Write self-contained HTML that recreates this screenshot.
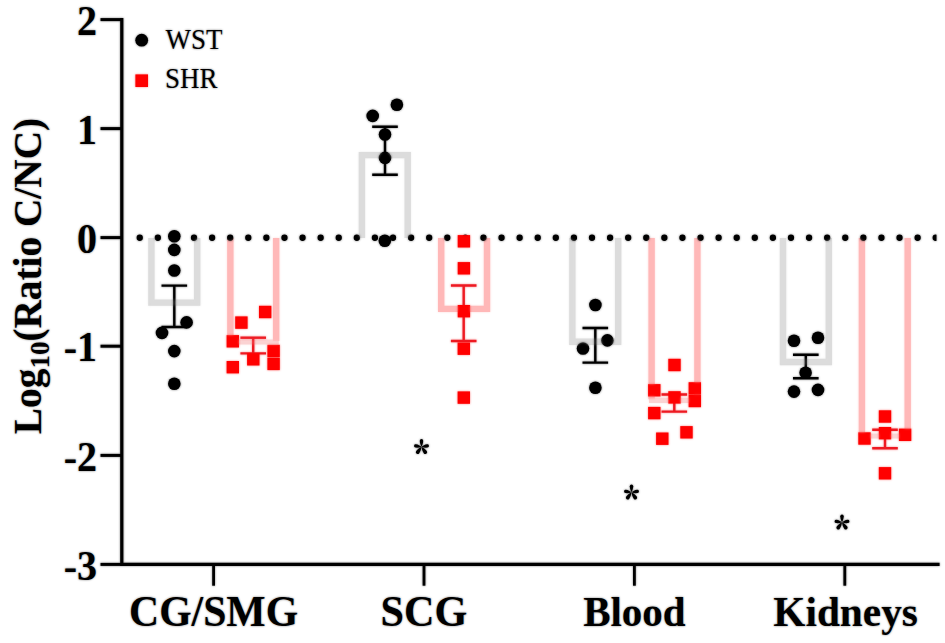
<!DOCTYPE html>
<html><head><meta charset="utf-8"><style>
html,body{margin:0;padding:0;background:#fff;}
svg{display:block;}
.wrap{position:relative;width:945px;height:643px;overflow:hidden;}
.l2{position:absolute;left:0;top:0;filter:blur(1px);opacity:0.5;}
text{font-family:"Liberation Serif",serif;}
</style></head><body><div class="wrap">
<svg width="945" height="643" viewBox="0 0 945 643">
<rect width="945" height="643" fill="#fff"/>
<!--S-->
<path d="M151.40,238.1 V302.6 H197.20 V238.1" fill="none" stroke="#dcdcdc" stroke-width="6.4" stroke-linejoin="miter"/>
<path d="M230.35,342.0 H276.15" fill="none" stroke="#fbd3d3" stroke-width="5.2" stroke-linecap="square"/>
<path d="M230.35,238.1 V341.00 M276.15,238.1 V341.00" fill="none" stroke="#ffb8b8" stroke-width="6.4"/>
<path d="M361.90,238.1 V155.1 H407.70 V238.1" fill="none" stroke="#dcdcdc" stroke-width="6.4" stroke-linejoin="miter"/>
<path d="M441.20,238.1 V308.85 H487.00 V238.1" fill="none" stroke="#ffb8b8" stroke-width="6.4" stroke-linejoin="miter"/>
<path d="M572.35,238.1 V341.7 H618.15 V238.1" fill="none" stroke="#dcdcdc" stroke-width="6.4" stroke-linejoin="miter"/>
<path d="M651.60,400.3 H697.40" fill="none" stroke="#fbd3d3" stroke-width="5.2" stroke-linecap="square"/>
<path d="M651.60,238.1 V399.30 M697.40,238.1 V399.30" fill="none" stroke="#ffb8b8" stroke-width="6.4"/>
<path d="M783.00,238.1 V362.0 H828.80 V238.1" fill="none" stroke="#dcdcdc" stroke-width="6.4" stroke-linejoin="miter"/>
<path d="M861.90,436.0 H907.70" fill="none" stroke="#fbd3d3" stroke-width="5.2" stroke-linecap="square"/>
<path d="M861.90,238.1 V435.00 M907.70,238.1 V435.00" fill="none" stroke="#ffb8b8" stroke-width="6.4"/>
<defs><clipPath id="dc"><rect x="120" y="220" width="816.5" height="40"/></clipPath></defs>
<line x1="139.75" y1="237.75" x2="940" y2="237.75" stroke="#000" stroke-width="6.3" stroke-linecap="round" stroke-dasharray="0 18.09" clip-path="url(#dc)"/>
<path d="M161.50,285.6 H187.10 M174.3,285.6 V327.0 M161.50,327.0 H187.10" fill="none" stroke="#000" stroke-width="2.4"/>
<path d="M240.40,337.7 H266.00 M253.2,337.7 V353.4 M240.40,353.4 H266.00" fill="none" stroke="#ee1a22" stroke-width="2.4"/>
<path d="M372.20,126.7 H397.80 M385.0,126.7 V174.7 M372.20,174.7 H397.80" fill="none" stroke="#000" stroke-width="2.4"/>
<path d="M450.90,285.5 H476.50 M463.7,285.5 V341.0 M450.90,341.0 H476.50" fill="none" stroke="#ee1a22" stroke-width="2.4"/>
<path d="M582.50,328.0 H608.10 M595.3,328.0 V362.6 M582.50,362.6 H608.10" fill="none" stroke="#000" stroke-width="2.4"/>
<path d="M661.50,394.5 H687.10 M674.3,394.5 V411.6 M661.50,411.6 H687.10" fill="none" stroke="#ee1a22" stroke-width="2.4"/>
<path d="M793.00,354.8 H818.60 M805.8,354.8 V378.3 M793.00,378.3 H818.60" fill="none" stroke="#000" stroke-width="2.4"/>
<path d="M872.20,429.7 H897.80 M885.0,429.7 V448.3 M872.20,448.3 H897.80" fill="none" stroke="#ee1a22" stroke-width="2.4"/>
<circle cx="174.3" cy="236.2" r="6.3" fill="#000"/>
<circle cx="174.3" cy="249.9" r="6.3" fill="#000"/>
<circle cx="174.3" cy="270.5" r="6.3" fill="#000"/>
<circle cx="186.6" cy="322.4" r="6.3" fill="#000"/>
<circle cx="162" cy="332.9" r="6.3" fill="#000"/>
<circle cx="174.3" cy="351.1" r="6.3" fill="#000"/>
<circle cx="174.3" cy="383.8" r="6.3" fill="#000"/>
<circle cx="396.9" cy="104.7" r="6.3" fill="#000"/>
<circle cx="372.7" cy="115.9" r="6.3" fill="#000"/>
<circle cx="385" cy="134.5" r="6.3" fill="#000"/>
<circle cx="385" cy="157.9" r="6.3" fill="#000"/>
<circle cx="384.8" cy="240.7" r="6.3" fill="#000"/>
<circle cx="595.4" cy="305" r="6.3" fill="#000"/>
<circle cx="607.4" cy="340.4" r="6.3" fill="#000"/>
<circle cx="583" cy="348.5" r="6.3" fill="#000"/>
<circle cx="595.4" cy="387.8" r="6.3" fill="#000"/>
<circle cx="794" cy="340.8" r="6.3" fill="#000"/>
<circle cx="818" cy="337.7" r="6.3" fill="#000"/>
<circle cx="805.6" cy="372.8" r="6.3" fill="#000"/>
<circle cx="794" cy="391.6" r="6.3" fill="#000"/>
<circle cx="818" cy="389.9" r="6.3" fill="#000"/>
<rect x="259.00" y="305.80" width="12.4" height="12.4" fill="#ff0000"/>
<rect x="235.20" y="316.40" width="12.4" height="12.4" fill="#ff0000"/>
<rect x="226.60" y="335.10" width="12.4" height="12.4" fill="#ff0000"/>
<rect x="247.10" y="353.10" width="12.4" height="12.4" fill="#ff0000"/>
<rect x="267.40" y="344.80" width="12.4" height="12.4" fill="#ff0000"/>
<rect x="267.40" y="357.70" width="12.4" height="12.4" fill="#ff0000"/>
<rect x="226.60" y="361.00" width="12.4" height="12.4" fill="#ff0000"/>
<rect x="457.70" y="235.10" width="12.4" height="12.4" fill="#ff0000"/>
<rect x="457.70" y="262.10" width="12.4" height="12.4" fill="#ff0000"/>
<rect x="457.70" y="305.00" width="12.4" height="12.4" fill="#ff0000"/>
<rect x="457.60" y="342.50" width="12.4" height="12.4" fill="#ff0000"/>
<rect x="457.60" y="391.40" width="12.4" height="12.4" fill="#ff0000"/>
<rect x="668.30" y="358.80" width="12.4" height="12.4" fill="#ff0000"/>
<rect x="648.10" y="384.10" width="12.4" height="12.4" fill="#ff0000"/>
<rect x="688.60" y="382.20" width="12.4" height="12.4" fill="#ff0000"/>
<rect x="688.60" y="394.80" width="12.4" height="12.4" fill="#ff0000"/>
<rect x="668.30" y="391.20" width="12.4" height="12.4" fill="#ff0000"/>
<rect x="648.10" y="406.90" width="12.4" height="12.4" fill="#ff0000"/>
<rect x="680.30" y="426.10" width="12.4" height="12.4" fill="#ff0000"/>
<rect x="656.10" y="432.50" width="12.4" height="12.4" fill="#ff0000"/>
<rect x="878.80" y="410.30" width="12.4" height="12.4" fill="#ff0000"/>
<rect x="878.80" y="427.00" width="12.4" height="12.4" fill="#ff0000"/>
<rect x="858.30" y="432.30" width="12.4" height="12.4" fill="#ff0000"/>
<rect x="898.90" y="428.60" width="12.4" height="12.4" fill="#ff0000"/>
<rect x="878.80" y="467.10" width="12.4" height="12.4" fill="#ff0000"/>
<path d="M121.8,18.1 V564.4 H939.6" fill="none" stroke="#000" stroke-width="3.2"/>
<line x1="100.5" y1="19.6" x2="122" y2="19.6" stroke="#000" stroke-width="3"/>
<text transform="translate(97,34.7) scale(1,1.08)" text-anchor="end" font-weight="bold" font-size="40">2</text>
<line x1="100.5" y1="128.6" x2="122" y2="128.6" stroke="#000" stroke-width="3"/>
<text transform="translate(97,143.7) scale(1,1.08)" text-anchor="end" font-weight="bold" font-size="40">1</text>
<line x1="100.5" y1="237.6" x2="122" y2="237.6" stroke="#000" stroke-width="3"/>
<text transform="translate(97,252.7) scale(1,1.08)" text-anchor="end" font-weight="bold" font-size="40">0</text>
<line x1="100.5" y1="346.2" x2="122" y2="346.2" stroke="#000" stroke-width="3"/>
<text transform="translate(97,361.3) scale(1,1.08)" text-anchor="end" font-weight="bold" font-size="40">-1</text>
<line x1="100.5" y1="455.4" x2="122" y2="455.4" stroke="#000" stroke-width="3"/>
<text transform="translate(97,470.5) scale(1,1.08)" text-anchor="end" font-weight="bold" font-size="40">-2</text>
<line x1="100.5" y1="564.4" x2="122" y2="564.4" stroke="#000" stroke-width="3"/>
<text transform="translate(97,579.5) scale(1,1.08)" text-anchor="end" font-weight="bold" font-size="40">-3</text>
<line x1="213.6" y1="564" x2="213.6" y2="585.7" stroke="#000" stroke-width="2.8"/>
<text transform="translate(213.6,626) scale(1.017,1.06)" text-anchor="middle" font-weight="bold" font-size="41">CG/SMG</text>
<line x1="424.0" y1="564" x2="424.0" y2="585.7" stroke="#000" stroke-width="2.8"/>
<text transform="translate(424.0,626) scale(1.03,1.06)" text-anchor="middle" font-weight="bold" font-size="41">SCG</text>
<line x1="634.4" y1="564" x2="634.4" y2="585.7" stroke="#000" stroke-width="2.8"/>
<text transform="translate(634.4,626) scale(1.0,1.02)" text-anchor="middle" font-weight="bold" font-size="41">Blood</text>
<line x1="844.8" y1="564" x2="844.8" y2="585.7" stroke="#000" stroke-width="2.8"/>
<text transform="translate(845.6,626) scale(1.008,1.04)" text-anchor="middle" font-weight="bold" font-size="41">Kidneys</text>
<defs><path id="pt" d="M0,0 C-0.8,-1.6 -1.65,-3.6 -1.65,-5.85 A1.65,1.65 0 0 1 1.65,-5.85 C1.65,-3.6 0.8,-1.6 0,0Z"/></defs>
<g transform="translate(421.5,446.8)" fill="#000"><use href="#pt" transform="rotate(0) scale(1.03)"/><use href="#pt" transform="rotate(-82) scale(1.0)"/><use href="#pt" transform="rotate(82) scale(1.0)"/><use href="#pt" transform="rotate(-145) scale(1.12)"/><use href="#pt" transform="rotate(145) scale(1.12)"/></g>
<g transform="translate(631.5,492.3)" fill="#000"><use href="#pt" transform="rotate(0) scale(1.03)"/><use href="#pt" transform="rotate(-82) scale(1.0)"/><use href="#pt" transform="rotate(82) scale(1.0)"/><use href="#pt" transform="rotate(-145) scale(1.12)"/><use href="#pt" transform="rotate(145) scale(1.12)"/></g>
<g transform="translate(842,522.3)" fill="#000"><use href="#pt" transform="rotate(0) scale(1.03)"/><use href="#pt" transform="rotate(-82) scale(1.0)"/><use href="#pt" transform="rotate(82) scale(1.0)"/><use href="#pt" transform="rotate(-145) scale(1.12)"/><use href="#pt" transform="rotate(145) scale(1.12)"/></g>
<text transform="translate(40.5,276) rotate(-90)" text-anchor="middle" font-weight="bold" font-size="39.3">Log<tspan font-size="27" dy="8.5">10</tspan><tspan dy="-8.5">(Ratio C/NC)</tspan></text>
<circle cx="141.7" cy="40.2" r="6.4" fill="#000"/>
<rect x="135.4" y="74.4" width="12.6" height="12.6" fill="#ff0000"/>
<text transform="translate(165.5,48.6) scale(1,1.06)" font-size="27">WST</text>
<text transform="translate(165,88.2) scale(1,1.06)" font-size="27">SHR</text>
</svg>
<div class="l2"><svg width="945" height="643" viewBox="0 0 945 643"><path d="M151.40,238.1 V302.6 H197.20 V238.1" fill="none" stroke="#dcdcdc" stroke-width="6.4" stroke-linejoin="miter"/>
<path d="M230.35,342.0 H276.15" fill="none" stroke="#fbd3d3" stroke-width="5.2" stroke-linecap="square"/>
<path d="M230.35,238.1 V341.00 M276.15,238.1 V341.00" fill="none" stroke="#ffb8b8" stroke-width="6.4"/>
<path d="M361.90,238.1 V155.1 H407.70 V238.1" fill="none" stroke="#dcdcdc" stroke-width="6.4" stroke-linejoin="miter"/>
<path d="M441.20,238.1 V308.85 H487.00 V238.1" fill="none" stroke="#ffb8b8" stroke-width="6.4" stroke-linejoin="miter"/>
<path d="M572.35,238.1 V341.7 H618.15 V238.1" fill="none" stroke="#dcdcdc" stroke-width="6.4" stroke-linejoin="miter"/>
<path d="M651.60,400.3 H697.40" fill="none" stroke="#fbd3d3" stroke-width="5.2" stroke-linecap="square"/>
<path d="M651.60,238.1 V399.30 M697.40,238.1 V399.30" fill="none" stroke="#ffb8b8" stroke-width="6.4"/>
<path d="M783.00,238.1 V362.0 H828.80 V238.1" fill="none" stroke="#dcdcdc" stroke-width="6.4" stroke-linejoin="miter"/>
<path d="M861.90,436.0 H907.70" fill="none" stroke="#fbd3d3" stroke-width="5.2" stroke-linecap="square"/>
<path d="M861.90,238.1 V435.00 M907.70,238.1 V435.00" fill="none" stroke="#ffb8b8" stroke-width="6.4"/>
<defs><clipPath id="dc2"><rect x="120" y="220" width="816.5" height="40"/></clipPath></defs>
<line x1="139.75" y1="237.75" x2="940" y2="237.75" stroke="#000" stroke-width="6.3" stroke-linecap="round" stroke-dasharray="0 18.09" clip-path="url(#dc2)"/>
<path d="M161.50,285.6 H187.10 M174.3,285.6 V327.0 M161.50,327.0 H187.10" fill="none" stroke="#000" stroke-width="2.4"/>
<path d="M240.40,337.7 H266.00 M253.2,337.7 V353.4 M240.40,353.4 H266.00" fill="none" stroke="#ee1a22" stroke-width="2.4"/>
<path d="M372.20,126.7 H397.80 M385.0,126.7 V174.7 M372.20,174.7 H397.80" fill="none" stroke="#000" stroke-width="2.4"/>
<path d="M450.90,285.5 H476.50 M463.7,285.5 V341.0 M450.90,341.0 H476.50" fill="none" stroke="#ee1a22" stroke-width="2.4"/>
<path d="M582.50,328.0 H608.10 M595.3,328.0 V362.6 M582.50,362.6 H608.10" fill="none" stroke="#000" stroke-width="2.4"/>
<path d="M661.50,394.5 H687.10 M674.3,394.5 V411.6 M661.50,411.6 H687.10" fill="none" stroke="#ee1a22" stroke-width="2.4"/>
<path d="M793.00,354.8 H818.60 M805.8,354.8 V378.3 M793.00,378.3 H818.60" fill="none" stroke="#000" stroke-width="2.4"/>
<path d="M872.20,429.7 H897.80 M885.0,429.7 V448.3 M872.20,448.3 H897.80" fill="none" stroke="#ee1a22" stroke-width="2.4"/>
<circle cx="174.3" cy="236.2" r="6.3" fill="#000"/>
<circle cx="174.3" cy="249.9" r="6.3" fill="#000"/>
<circle cx="174.3" cy="270.5" r="6.3" fill="#000"/>
<circle cx="186.6" cy="322.4" r="6.3" fill="#000"/>
<circle cx="162" cy="332.9" r="6.3" fill="#000"/>
<circle cx="174.3" cy="351.1" r="6.3" fill="#000"/>
<circle cx="174.3" cy="383.8" r="6.3" fill="#000"/>
<circle cx="396.9" cy="104.7" r="6.3" fill="#000"/>
<circle cx="372.7" cy="115.9" r="6.3" fill="#000"/>
<circle cx="385" cy="134.5" r="6.3" fill="#000"/>
<circle cx="385" cy="157.9" r="6.3" fill="#000"/>
<circle cx="384.8" cy="240.7" r="6.3" fill="#000"/>
<circle cx="595.4" cy="305" r="6.3" fill="#000"/>
<circle cx="607.4" cy="340.4" r="6.3" fill="#000"/>
<circle cx="583" cy="348.5" r="6.3" fill="#000"/>
<circle cx="595.4" cy="387.8" r="6.3" fill="#000"/>
<circle cx="794" cy="340.8" r="6.3" fill="#000"/>
<circle cx="818" cy="337.7" r="6.3" fill="#000"/>
<circle cx="805.6" cy="372.8" r="6.3" fill="#000"/>
<circle cx="794" cy="391.6" r="6.3" fill="#000"/>
<circle cx="818" cy="389.9" r="6.3" fill="#000"/>
<rect x="259.00" y="305.80" width="12.4" height="12.4" fill="#ff0000"/>
<rect x="235.20" y="316.40" width="12.4" height="12.4" fill="#ff0000"/>
<rect x="226.60" y="335.10" width="12.4" height="12.4" fill="#ff0000"/>
<rect x="247.10" y="353.10" width="12.4" height="12.4" fill="#ff0000"/>
<rect x="267.40" y="344.80" width="12.4" height="12.4" fill="#ff0000"/>
<rect x="267.40" y="357.70" width="12.4" height="12.4" fill="#ff0000"/>
<rect x="226.60" y="361.00" width="12.4" height="12.4" fill="#ff0000"/>
<rect x="457.70" y="235.10" width="12.4" height="12.4" fill="#ff0000"/>
<rect x="457.70" y="262.10" width="12.4" height="12.4" fill="#ff0000"/>
<rect x="457.70" y="305.00" width="12.4" height="12.4" fill="#ff0000"/>
<rect x="457.60" y="342.50" width="12.4" height="12.4" fill="#ff0000"/>
<rect x="457.60" y="391.40" width="12.4" height="12.4" fill="#ff0000"/>
<rect x="668.30" y="358.80" width="12.4" height="12.4" fill="#ff0000"/>
<rect x="648.10" y="384.10" width="12.4" height="12.4" fill="#ff0000"/>
<rect x="688.60" y="382.20" width="12.4" height="12.4" fill="#ff0000"/>
<rect x="688.60" y="394.80" width="12.4" height="12.4" fill="#ff0000"/>
<rect x="668.30" y="391.20" width="12.4" height="12.4" fill="#ff0000"/>
<rect x="648.10" y="406.90" width="12.4" height="12.4" fill="#ff0000"/>
<rect x="680.30" y="426.10" width="12.4" height="12.4" fill="#ff0000"/>
<rect x="656.10" y="432.50" width="12.4" height="12.4" fill="#ff0000"/>
<rect x="878.80" y="410.30" width="12.4" height="12.4" fill="#ff0000"/>
<rect x="878.80" y="427.00" width="12.4" height="12.4" fill="#ff0000"/>
<rect x="858.30" y="432.30" width="12.4" height="12.4" fill="#ff0000"/>
<rect x="898.90" y="428.60" width="12.4" height="12.4" fill="#ff0000"/>
<rect x="878.80" y="467.10" width="12.4" height="12.4" fill="#ff0000"/>
<path d="M121.8,18.1 V564.4 H939.6" fill="none" stroke="#000" stroke-width="3.2"/>
<line x1="100.5" y1="19.6" x2="122" y2="19.6" stroke="#000" stroke-width="3"/>
<text transform="translate(97,34.7) scale(1,1.08)" text-anchor="end" font-weight="bold" font-size="40">2</text>
<line x1="100.5" y1="128.6" x2="122" y2="128.6" stroke="#000" stroke-width="3"/>
<text transform="translate(97,143.7) scale(1,1.08)" text-anchor="end" font-weight="bold" font-size="40">1</text>
<line x1="100.5" y1="237.6" x2="122" y2="237.6" stroke="#000" stroke-width="3"/>
<text transform="translate(97,252.7) scale(1,1.08)" text-anchor="end" font-weight="bold" font-size="40">0</text>
<line x1="100.5" y1="346.2" x2="122" y2="346.2" stroke="#000" stroke-width="3"/>
<text transform="translate(97,361.3) scale(1,1.08)" text-anchor="end" font-weight="bold" font-size="40">-1</text>
<line x1="100.5" y1="455.4" x2="122" y2="455.4" stroke="#000" stroke-width="3"/>
<text transform="translate(97,470.5) scale(1,1.08)" text-anchor="end" font-weight="bold" font-size="40">-2</text>
<line x1="100.5" y1="564.4" x2="122" y2="564.4" stroke="#000" stroke-width="3"/>
<text transform="translate(97,579.5) scale(1,1.08)" text-anchor="end" font-weight="bold" font-size="40">-3</text>
<line x1="213.6" y1="564" x2="213.6" y2="585.7" stroke="#000" stroke-width="2.8"/>
<text transform="translate(213.6,626) scale(1.017,1.06)" text-anchor="middle" font-weight="bold" font-size="41">CG/SMG</text>
<line x1="424.0" y1="564" x2="424.0" y2="585.7" stroke="#000" stroke-width="2.8"/>
<text transform="translate(424.0,626) scale(1.03,1.06)" text-anchor="middle" font-weight="bold" font-size="41">SCG</text>
<line x1="634.4" y1="564" x2="634.4" y2="585.7" stroke="#000" stroke-width="2.8"/>
<text transform="translate(634.4,626) scale(1.0,1.02)" text-anchor="middle" font-weight="bold" font-size="41">Blood</text>
<line x1="844.8" y1="564" x2="844.8" y2="585.7" stroke="#000" stroke-width="2.8"/>
<text transform="translate(845.6,626) scale(1.008,1.04)" text-anchor="middle" font-weight="bold" font-size="41">Kidneys</text>
<defs><path id="pt2" d="M0,0 C-0.8,-1.6 -1.65,-3.6 -1.65,-5.85 A1.65,1.65 0 0 1 1.65,-5.85 C1.65,-3.6 0.8,-1.6 0,0Z"/></defs>
<g transform="translate(421.5,446.8)" fill="#000"><use href="#pt2" transform="rotate(0) scale(1.03)"/><use href="#pt2" transform="rotate(-82) scale(1.0)"/><use href="#pt2" transform="rotate(82) scale(1.0)"/><use href="#pt2" transform="rotate(-145) scale(1.12)"/><use href="#pt2" transform="rotate(145) scale(1.12)"/></g>
<g transform="translate(631.5,492.3)" fill="#000"><use href="#pt2" transform="rotate(0) scale(1.03)"/><use href="#pt2" transform="rotate(-82) scale(1.0)"/><use href="#pt2" transform="rotate(82) scale(1.0)"/><use href="#pt2" transform="rotate(-145) scale(1.12)"/><use href="#pt2" transform="rotate(145) scale(1.12)"/></g>
<g transform="translate(842,522.3)" fill="#000"><use href="#pt2" transform="rotate(0) scale(1.03)"/><use href="#pt2" transform="rotate(-82) scale(1.0)"/><use href="#pt2" transform="rotate(82) scale(1.0)"/><use href="#pt2" transform="rotate(-145) scale(1.12)"/><use href="#pt2" transform="rotate(145) scale(1.12)"/></g>
<text transform="translate(40.5,276) rotate(-90)" text-anchor="middle" font-weight="bold" font-size="39.3">Log<tspan font-size="27" dy="8.5">10</tspan><tspan dy="-8.5">(Ratio C/NC)</tspan></text>
<circle cx="141.7" cy="40.2" r="6.4" fill="#000"/>
<rect x="135.4" y="74.4" width="12.6" height="12.6" fill="#ff0000"/>
<text transform="translate(165.5,48.6) scale(1,1.06)" font-size="27">WST</text>
<text transform="translate(165,88.2) scale(1,1.06)" font-size="27">SHR</text></svg></div>
</div></body></html>
